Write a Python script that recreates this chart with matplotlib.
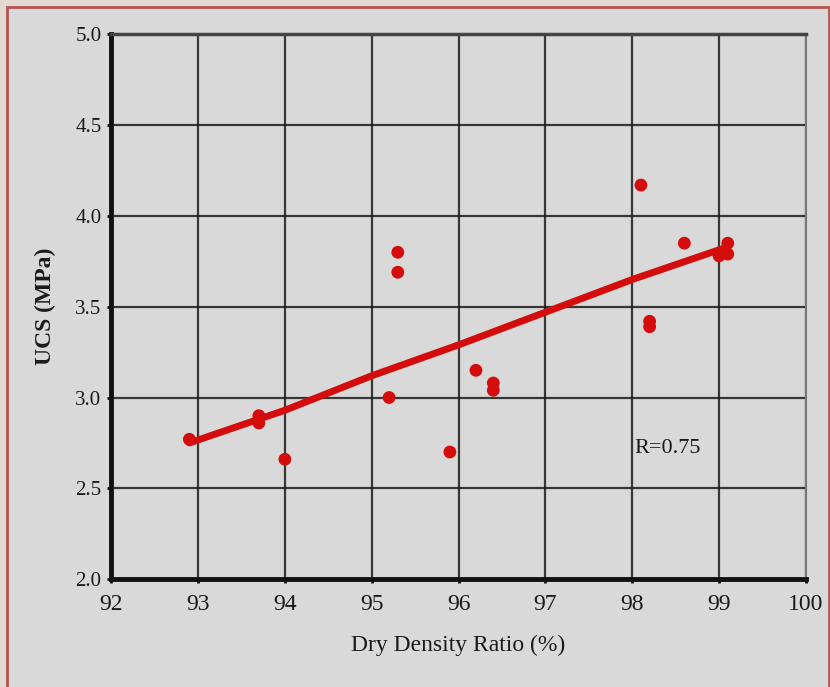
import matplotlib

matplotlib.use("Agg")
import matplotlib.pyplot as plt
from matplotlib.patches import Rectangle

# --- data --------------------------------------------------------------------
density = [92.9, 93.7, 93.7, 94.0, 95.2, 95.3, 95.3, 95.9, 96.2, 96.4, 96.4,
           98.1, 98.2, 98.2, 98.6, 99.0, 99.05, 99.1, 99.1]
ucs = [2.77, 2.86, 2.90, 2.66, 3.00, 3.80, 3.69, 2.70, 3.15, 3.04, 3.08,
       4.17, 3.39, 3.42, 3.85, 3.78, 3.80, 3.79, 3.85]

fit_x = [92.9, 94.0, 95.0, 96.0, 97.0, 98.0, 99.1]
fit_y = [2.75, 2.93, 3.12, 3.29, 3.47, 3.65, 3.83]

x_ticks = [92, 93, 94, 95, 96, 97, 98, 99, 100]
y_ticks = [2.0, 2.5, 3.0, 3.5, 4.0, 4.5, 5.0]

RED = "#d40c0c"
PANEL = "#d9d9d9"
SERIF = ["Liberation Serif", "DejaVu Serif"]

fig = plt.figure(figsize=(8.3, 6.87), dpi=100)
fig.patch.set_facecolor("#e2d9d2")
# grey panel with the dark red frame of the scan
frame = Rectangle((0.009, -0.01), 0.99, 1.0, transform=fig.transFigure,
                  facecolor=PANEL, edgecolor="#b5534f", linewidth=2.0, zorder=-10)
fig.add_artist(frame)

ax = fig.add_axes([0.134, 0.157, 0.837, 0.793])
ax.set_facecolor(PANEL)

ax.plot(fit_x, fit_y, color=RED, linewidth=5, solid_capstyle="round", zorder=3)
ax.scatter(density, ucs, s=85, color=RED, zorder=4, edgecolors="none")

ax.set_xlim(92, 100)
ax.set_ylim(2.0, 5.0)
ax.set_xticks(x_ticks)
ax.set_yticks(y_ticks)
ax.set_xticklabels([str(t) for t in x_ticks], family=SERIF, fontsize=17, color="#1a1a1a")
ax.set_yticklabels([f"{t:.1f}" for t in y_ticks], family=SERIF, fontsize=15, color="#1a1a1a")
ax.tick_params(length=3, width=2, color="#111", pad=4)
ax.tick_params(axis="x", pad=8)

ax.grid(True, color="#1a1a1a", linewidth=1.6, alpha=0.85)
ax.set_axisbelow(True)
for side in ("left", "bottom"):
    ax.spines[side].set_linewidth(3.5)
    ax.spines[side].set_color("#111")
ax.spines["top"].set_linewidth(2.5)
ax.spines["top"].set_color("#444")
ax.spines["right"].set_linewidth(1.5)
ax.spines["right"].set_color("#777")

ax.set_xlabel("Dry Density Ratio (%)", family=SERIF, fontsize=17, color="#1a1a1a", labelpad=14)
ax.set_ylabel("UCS (MPa)", family=SERIF, fontsize=17, color="#1a1a1a", labelpad=14,
              fontweight="bold")

ax.text(98.02, 2.72, "R=0.75", family=SERIF, fontsize=16, color="#1a1a1a",
        va="center", ha="left")

fig.savefig("out.png", dpi=100, facecolor=fig.get_facecolor())
